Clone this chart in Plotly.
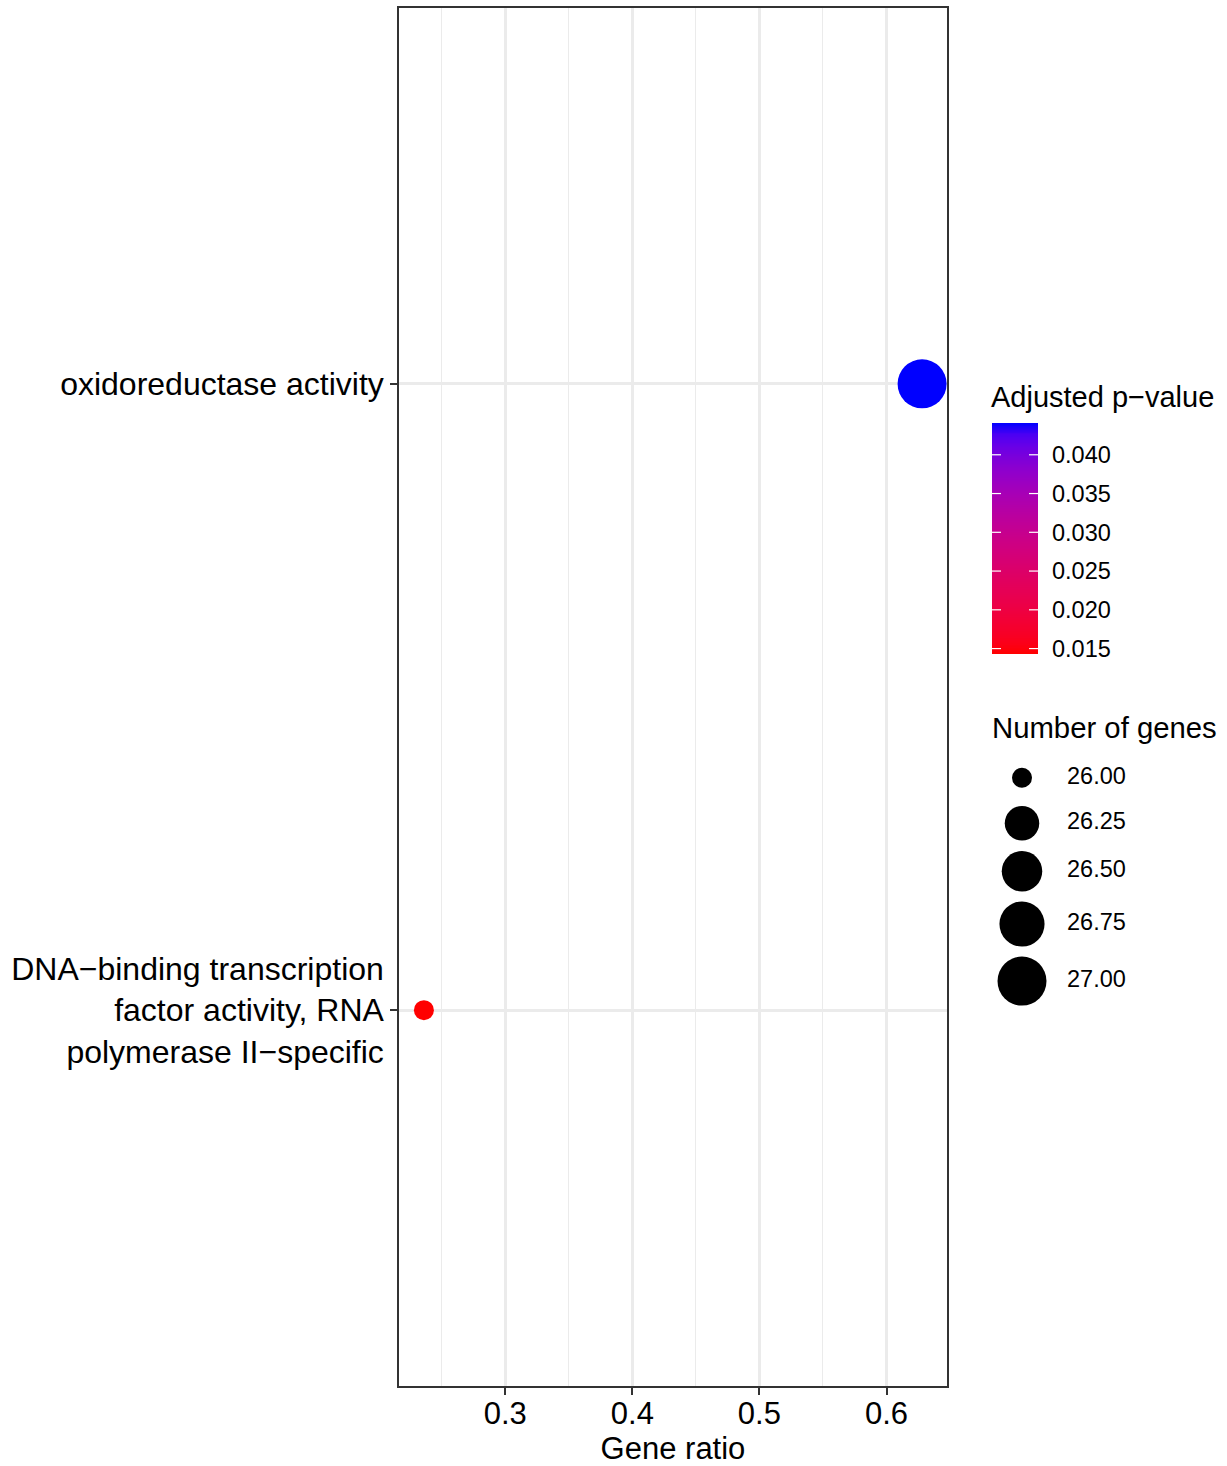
import numpy as np
import plotly.graph_objects as go

# GO enrichment results
terms = [
    "DNA\u2212binding transcription<br>factor activity, RNA<br>polymerase II\u2212specific",
    "oxidoreductase activity",
]
gene_ratio = [0.236, 0.628]
gene_count = [26, 27]
p_adjust = [0.0143, 0.0441]

size_breaks = [26.00, 26.25, 26.50, 26.75, 27.00]
size_break_labels = ["26.00", "26.25", "26.50", "26.75", "27.00"]
p_ticks = [0.015, 0.020, 0.025, 0.030, 0.035, 0.040]

FONT = "Liberation Sans, Arial, sans-serif"
W, H = 1227, 1466
ML, MR, MT, MB = 399, 0, 8, 80
PANEL_W = 548
paper_w = W - ML - MR
paper_h = H - MT - MB


def px_x(x):
    """page pixel -> paper fraction (horizontal)"""
    return (x - ML) / paper_w


def px_y(y):
    """page pixel -> paper fraction (vertical)"""
    return (MT + paper_h - y) / paper_h


# ---- colour scale: red -> blue interpolated in CIELAB ----
def _srgb_to_lab(rgb):
    c = np.array(rgb, dtype=float) / 255.0
    c = np.where(c <= 0.04045, c / 12.92, ((c + 0.055) / 1.055) ** 2.4)
    m = np.array([[0.4124, 0.3576, 0.1805],
                  [0.2126, 0.7152, 0.0722],
                  [0.0193, 0.1192, 0.9505]])
    xyz = m @ c / np.array([0.95047, 1.0, 1.08883])
    f = np.where(xyz > 0.008856, np.cbrt(xyz), 7.787 * xyz + 16 / 116)
    return np.array([116 * f[1] - 16, 500 * (f[0] - f[1]), 200 * (f[1] - f[2])])


def _lab_to_srgb(lab):
    L, a, b = lab
    fy = (L + 16) / 116
    fx = fy + a / 500
    fz = fy - b / 200
    f = np.array([fx, fy, fz])
    xyz = np.where(f ** 3 > 0.008856, f ** 3, (f - 16 / 116) / 7.787)
    xyz = xyz * np.array([0.95047, 1.0, 1.08883])
    minv = np.array([[3.2406, -1.5372, -0.4986],
                     [-0.9689, 1.8758, 0.0415],
                     [0.0557, -0.2040, 1.0570]])
    c = minv @ xyz
    c = np.where(c <= 0.0031308, 12.92 * c, 1.055 * np.clip(c, 0, None) ** (1 / 2.4) - 0.055)
    c = np.clip(np.round(c * 255), 0, 255).astype(int)
    return "rgb({},{},{})".format(*c)


lab_lo = _srgb_to_lab((255, 0, 0))
lab_hi = _srgb_to_lab((0, 0, 255))
stops = np.linspace(0, 1, 21)
colorscale = [[float(t), _lab_to_srgb(lab_lo + (lab_hi - lab_lo) * t)] for t in stops]
p_lo, p_hi = min(p_adjust), max(p_adjust)


# ---- size scale: area palette, diameter in px ----
D_MIN, D_MAX = 20.0, 49.0
n_lo, n_hi = min(gene_count), max(gene_count)


def gene_diameter(n):
    t = (np.asarray(n, dtype=float) - n_lo) / (n_hi - n_lo)
    return D_MIN + (D_MAX - D_MIN) * np.sqrt(t)


# x range with 5% expansion on each side
x_lo, x_hi = min(gene_ratio), max(gene_ratio)
x_pad = 0.05 * (x_hi - x_lo)

fig = go.Figure()

# main dot plot
fig.add_trace(go.Scatter(
    x=gene_ratio, y=terms, mode="markers",
    marker=dict(
        size=gene_diameter(gene_count).tolist(),
        color=p_adjust, colorscale=colorscale, cmin=p_lo, cmax=p_hi,
        showscale=False, line=dict(width=0), opacity=1,
    ),
    cliponaxis=False, showlegend=False, hoverinfo="x+y",
))

# ---- colour bar guide: a gradient strip on its own axes ----
CB_LEFT, CB_TOP, CB_LEN, CB_THICK = 992, 423, 231, 46
levels = np.linspace(p_lo, p_hi, 300)
fig.add_trace(go.Heatmap(
    z=[[v] for v in levels], y=levels.tolist(), x=[0],
    colorscale=colorscale, zmin=p_lo, zmax=p_hi, showscale=False,
    xaxis="x3", yaxis="y3", hoverinfo="skip",
))
for v in p_ticks:
    for x0, x1 in ((0, 9 / CB_THICK), (1 - 9 / CB_THICK, 1)):
        fig.add_shape(type="line", xref="x3 domain", yref="y3", x0=x0, x1=x1,
                      y0=v, y1=v, line=dict(color="white", width=1.2), layer="above")
fig.add_annotation(
    text="Adjusted p\u2212value", xref="x3 domain", yref="y3 domain",
    x=0, y=1, xanchor="left", yanchor="bottom", xshift=-3, yshift=8, showarrow=False,
    font=dict(size=29, color="black", family=FONT),
)

# ---- size legend drawn on a pixel-unit overlay axis ----
key_x = 1022
label_x = 1067
key_top = 755
diam = gene_diameter(size_breaks)
key_h = np.maximum(45.5, diam + 10)
key_y = key_top + np.cumsum(key_h) - key_h / 2

fig.add_trace(go.Scatter(
    x=[key_x] * len(size_breaks), y=key_y.tolist(), mode="markers",
    marker=dict(size=diam.tolist(), color="rgb(0,0,0)", opacity=1, line=dict(width=0)),
    xaxis="x2", yaxis="y2", cliponaxis=False, showlegend=False, hoverinfo="skip",
))
fig.add_trace(go.Scatter(
    x=[label_x] * len(size_breaks), y=key_y.tolist(), mode="text",
    text=size_break_labels, textposition="middle right",
    textfont=dict(size=23.5, color="black", family=FONT),
    xaxis="x2", yaxis="y2", cliponaxis=False, showlegend=False, hoverinfo="skip",
))
fig.add_annotation(
    text="Number of genes", x=990, y=727, xref="x2", yref="y2",
    xanchor="left", yanchor="middle", showarrow=False,
    font=dict(size=29.3, color="black", family=FONT),
)

grid = "#EBEBEB"
fig.update_layout(
    width=W, height=H, autosize=False,
    margin=dict(l=ML, r=MR, t=MT, b=MB, pad=0),
    paper_bgcolor="white", plot_bgcolor="rgba(0,0,0,0)",
    font=dict(family=FONT, color="black"),
    xaxis=dict(
        domain=[0, PANEL_W / paper_w], range=[x_lo - x_pad, x_hi + x_pad],
        tickvals=[0.3, 0.4, 0.5, 0.6], ticktext=["0.3", "0.4", "0.5", "0.6"],
        ticks="outside", ticklen=7, tickwidth=1.5, tickcolor="#333333",
        tickfont=dict(size=31, color="black"), ticklabelstandoff=-8,
        showgrid=True, gridcolor=grid, gridwidth=2.5,
        minor=dict(tickvals=[0.25, 0.35, 0.45, 0.55], showgrid=True,
                   gridcolor=grid, gridwidth=1.3, ticks=""),
        showline=True, mirror=True, linecolor="#333333", linewidth=1.5,
        zeroline=False,
        title=dict(text="Gene ratio", font=dict(size=31, color="black"), standoff=14),
    ),
    yaxis=dict(
        domain=[0, 1], type="category", categoryorder="array", categoryarray=terms,
        range=[-0.6, 1.6],
        ticks="outside", ticklen=7, tickwidth=1.5, tickcolor="#333333",
        tickfont=dict(size=32, color="black"),
        showgrid=True, gridcolor=grid, gridwidth=2.5,
        showline=True, mirror=True, linecolor="#333333", linewidth=1.5,
        zeroline=False, ticklabelstandoff=0,
    ),
    xaxis2=dict(domain=[0, 1], range=[ML, W - MR], visible=False,
                anchor="y2", fixedrange=True),
    yaxis2=dict(domain=[0, 1], range=[MT + paper_h, MT], visible=False,
                anchor="x2", fixedrange=True),
    xaxis3=dict(domain=[px_x(CB_LEFT), px_x(CB_LEFT + CB_THICK)], range=[-0.5, 0.5],
                visible=False, anchor="y3", fixedrange=True),
    yaxis3=dict(domain=[px_y(CB_TOP + CB_LEN), px_y(CB_TOP)], range=[p_lo, p_hi],
                anchor="x3", side="right", fixedrange=True,
                tickvals=p_ticks, tickformat=".3f", ticks="", ticklabelstandoff=13,
                tickfont=dict(size=23.5, color="black", family=FONT),
                showgrid=False, showline=False, zeroline=False),
)

fig.write_html("out.html")
